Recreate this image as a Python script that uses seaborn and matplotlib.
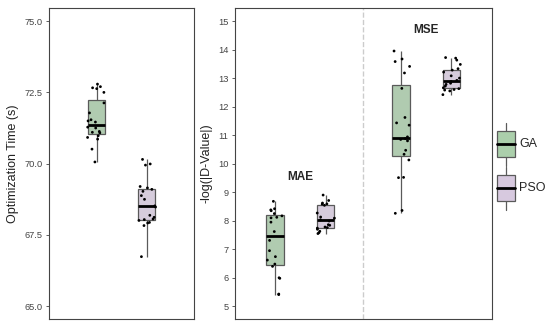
import matplotlib
matplotlib.use('Agg')
import matplotlib.pyplot as plt
from matplotlib.patches import Patch, Rectangle
from matplotlib.lines import Line2D
from matplotlib.legend_handler import HandlerBase
import seaborn as sns
import numpy as np
import pandas as pd

# values
algos = ['GA', 'PSO']
metrics = ['MAE', 'MSE']
colors = {'GA': '#abcfab', 'PSO': '#d7c9df'}

time_ga = [72.79, 72.70, 72.66, 72.63, 72.50, 72.13, 71.78, 71.54, 71.50, 71.46,
           71.28, 71.25, 71.13, 71.10, 71.08, 70.98, 70.92, 70.86, 70.51, 70.06]
time_pso = [70.15, 69.99, 69.95, 69.20, 69.15, 69.10, 69.03, 68.88, 68.75, 68.52,
            68.48, 68.19, 68.12, 68.06, 68.04, 68.01, 67.94, 67.92, 67.83, 66.74]

mae_ga = [8.68, 8.42, 8.38, 8.35, 8.25, 8.17, 8.12, 8.10, 7.95, 7.62,
          7.31, 6.95, 6.74, 6.62, 6.48, 6.40, 6.00, 5.98, 5.43, 5.41]
mae_pso = [8.90, 8.71, 8.62, 8.59, 8.58, 8.54, 8.27, 8.13, 8.09, 8.03,
           7.99, 7.86, 7.84, 7.78, 7.76, 7.74, 7.70, 7.63, 7.58, 7.55]
mse_ga = [13.95, 13.67, 13.58, 13.41, 13.18, 12.64, 11.62, 11.43, 11.35, 10.94,
          10.88, 10.85, 10.80, 10.47, 10.33, 10.13, 9.52, 9.51, 8.36, 8.26]
mse_pso = [13.72, 13.70, 13.63, 13.48, 13.33, 13.28, 13.21, 13.08, 13.00, 12.92,
           12.88, 12.82, 12.78, 12.72, 12.66, 12.63, 12.60, 12.58, 12.55, 12.42]

time_df = pd.DataFrame({
    'panel': ['time'] * 40,
    'algo': ['GA'] * 20 + ['PSO'] * 20,
    'value': time_ga + time_pso,
})
err_df = pd.DataFrame({
    'metric': ['MAE'] * 40 + ['MSE'] * 40,
    'algo': (['GA'] * 20 + ['PSO'] * 20) * 2,
    'value': mae_ga + mae_pso + mse_ga + mse_pso,
})

sns.set_style('white')
plt.rcParams['font.family'] = ['Liberation Sans', 'DejaVu Sans']
np.random.seed(3)

fig = plt.figure(figsize=(5.5, 3.29), dpi=100)
ax1 = fig.add_axes([0.089, 0.030, 0.264, 0.945])
ax2 = fig.add_axes([0.427, 0.030, 0.467, 0.945])

edge = '#5a5a5a'
box_kw = dict(hue='algo', hue_order=algos, palette=colors, width=0.8, gap=0.65,
              showcaps=False, showfliers=False, linewidth=0.9, linecolor=edge,
              medianprops=dict(color='black', linewidth=2), legend=False)
strip_kw = dict(hue='algo', hue_order=algos, palette=['black', 'black'], dodge=True,
                jitter=0.15, size=2, linewidth=0, legend=False)

sns.boxplot(data=time_df, x='panel', y='value', ax=ax1, **box_kw)
sns.stripplot(data=time_df, x='panel', y='value', ax=ax1, **strip_kw)
sns.boxplot(data=err_df, x='metric', y='value', order=metrics, ax=ax2, **box_kw)
sns.stripplot(data=err_df, x='metric', y='value', order=metrics, ax=ax2, **strip_kw)

ax1.set_xlim(-0.58, 0.58)
ax1.set_ylim(64.55, 75.45)
ax1.set_yticks([65, 67.5, 70, 72.5, 75])
ax1.set_yticklabels(['65.0', '67.5', '70.0', '72.5', '75.0'])
ax1.set_ylabel('Optimization Time (s)', fontsize=9, color='#222222')

ax2.set_xlim(-0.52, 1.52)
ax2.set_ylim(4.55, 15.45)
ax2.set_yticks(range(5, 16))
ax2.set_ylabel('-log(|D-Value|)', fontsize=9, color='#222222')
ax2.axvline(0.5, color='#cccccc', linestyle='--', linewidth=1)
ax2.text(0, 9.55, 'MAE', ha='center', va='center', fontsize=8.5, fontweight='bold')
ax2.text(1, 14.7, 'MSE', ha='center', va='center', fontsize=8.5, fontweight='bold')

for ax in (ax1, ax2):
    ax.set_xlabel('')
    ax.set_xticks([])
    ax.tick_params(axis='y', left=True, length=2.5, width=0.6, color='#444444',
                   labelsize=6.7, labelcolor='#444444', pad=2)
    for s in ax.spines.values():
        s.set_color('#444444')
        s.set_linewidth(0.8)


class BoxHandler(HandlerBase):
    def create_artists(self, legend, orig_handle, xdescent, ydescent,
                       width, height, fontsize, trans):
        x0, y0 = -xdescent, -ydescent
        whisk = Line2D([x0 + width / 2] * 2, [y0, y0 + height], color=edge,
                       linewidth=0.9, transform=trans)
        box = Rectangle((x0, y0 + height * 0.19), width, height * 0.62,
                        facecolor=orig_handle.get_facecolor(), edgecolor=edge,
                        linewidth=0.9, transform=trans)
        med = Line2D([x0, x0 + width], [y0 + height / 2] * 2, color='black',
                     linewidth=2, transform=trans)
        return [whisk, box, med]


handles = [Patch(facecolor=colors[a], edgecolor=edge, label=a) for a in algos]
fig.legend(handles=handles, handler_map={Patch: BoxHandler()}, loc='center left',
           bbox_to_anchor=(0.895, 0.495), frameon=False, fontsize=9,
           handlelength=1.45, handleheight=4.9, labelspacing=0.1,
           handletextpad=0.3, borderaxespad=0)

fig.savefig('out.png', dpi=100)
